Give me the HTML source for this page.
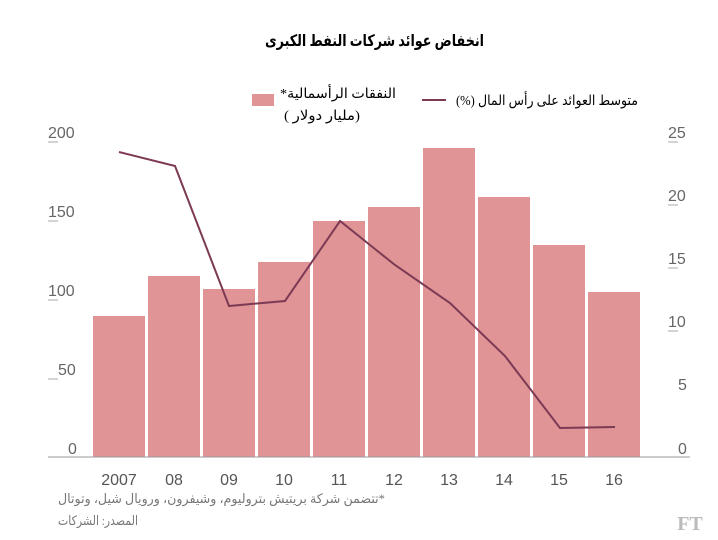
<!DOCTYPE html>
<html><head><meta charset="utf-8"><style>
body{margin:0;background:#fff;}
svg text{font-family:"Liberation Sans","DejaVu Sans",sans-serif;}
.ar{font-family:"Liberation Serif","Noto Serif CJK SC","DejaVu Sans",serif;}
</style></head><body>
<svg width="718" height="535" xmlns="http://www.w3.org/2000/svg">
<text x="265" y="46" text-anchor="end" font-size="16" font-weight="bold" class="ar" direction="rtl" fill="#000" textLength="219" lengthAdjust="spacingAndGlyphs">انخفاض عوائد شركات النفط الكبرى</text>
<rect x="252" y="94" width="22" height="12" fill="#e09496"/>
<text x="280" y="98" text-anchor="end" font-size="14" class="ar" direction="rtl" textLength="116" lengthAdjust="spacingAndGlyphs">النفقات الرأسمالية*</text>
<text x="284" y="120" text-anchor="end" font-size="14" class="ar" direction="rtl" textLength="76" lengthAdjust="spacingAndGlyphs">(مليار دولار )</text>
<line x1="422" y1="100" x2="446" y2="100" stroke="#7d3a55" stroke-width="2"/>
<text x="456" y="105" text-anchor="end" font-size="14" class="ar" direction="rtl" textLength="182" lengthAdjust="spacingAndGlyphs">متوسط العوائد على رأس المال (%)</text>
<g fill="#e09496">
<rect x="93" y="316" width="52" height="141"/>
<rect x="148" y="276" width="52" height="181"/>
<rect x="203" y="289" width="52" height="168"/>
<rect x="258" y="262" width="52" height="195"/>
<rect x="313" y="221" width="52" height="236"/>
<rect x="368" y="207" width="52" height="250"/>
<rect x="423" y="148" width="52" height="309"/>
<rect x="478" y="197" width="52" height="260"/>
<rect x="533" y="245" width="52" height="212"/>
<rect x="588" y="292" width="52" height="165"/>
</g>
<line x1="48" y1="457" x2="690" y2="457" stroke="#999" stroke-width="1"/>
<g font-size="16" fill="#666">
<text x="48" y="138">200</text><text x="48" y="217">150</text><text x="48" y="296">100</text><text x="58" y="375">50</text><text x="68" y="454">0</text>
<text x="668" y="138">25</text><text x="668" y="201">20</text><text x="668" y="264">15</text><text x="668" y="327">10</text><text x="678" y="390">5</text><text x="678" y="454">0</text>
</g>
<g stroke="#aaa" stroke-width="1">
<line x1="48" y1="142" x2="58" y2="142"/><line x1="48" y1="221" x2="58" y2="221"/><line x1="48" y1="300" x2="58" y2="300"/><line x1="48" y1="379" x2="58" y2="379"/>
<line x1="668" y1="142" x2="678" y2="142"/><line x1="668" y1="205" x2="678" y2="205"/><line x1="668" y1="268" x2="678" y2="268"/><line x1="668" y1="331" x2="678" y2="331"/>
</g>
<polyline fill="none" stroke="#7d3a55" stroke-width="2" points="119,152 175,166 229,306 285,301 340,221 395,265 450,303 505,356 560,428 615,427"/>
<g font-size="16" fill="#555" text-anchor="middle">
<text x="119" y="485">2007</text><text x="174" y="485">08</text><text x="229" y="485">09</text><text x="284" y="485">10</text><text x="339" y="485">11</text><text x="394" y="485">12</text><text x="449" y="485">13</text><text x="504" y="485">14</text><text x="559" y="485">15</text><text x="614" y="485">16</text>
</g>
<text x="58" y="503" text-anchor="end" font-size="13" fill="#777" class="ar" direction="rtl" textLength="327" lengthAdjust="spacingAndGlyphs">*تتضمن شركة بريتيش بتروليوم، وشيفرون، ورويال شيل، وتوتال</text>
<text x="58" y="525" text-anchor="end" font-size="13" fill="#777" class="ar" direction="rtl" textLength="80" lengthAdjust="spacingAndGlyphs">المصدر: الشركات</text>
<text x="690" y="530" text-anchor="middle" font-size="20" font-weight="bold" fill="#bbb" class="ar">FT</text>
</svg>
</body></html>
